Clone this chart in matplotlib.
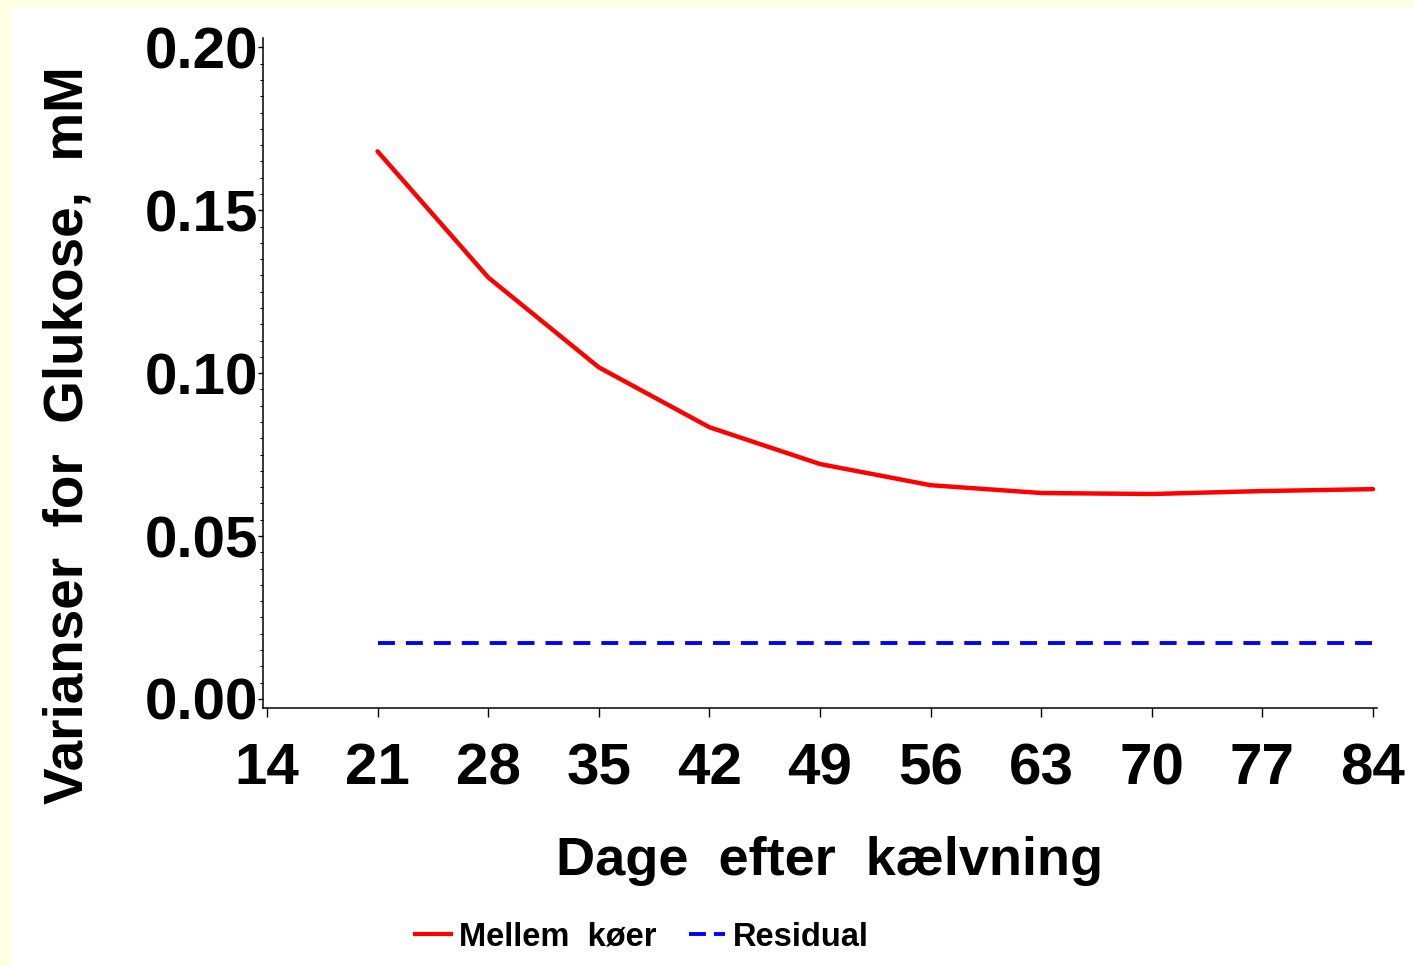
import matplotlib
matplotlib.use("Agg")
import matplotlib.pyplot as plt
from matplotlib.patches import Rectangle
from matplotlib.lines import Line2D
from matplotlib.ticker import MultipleLocator

days = [21, 28, 35, 42, 49, 56, 63, 70, 77, 84]
mellem_koer = [0.1681, 0.1294, 0.1018, 0.0834, 0.0721, 0.0656, 0.0632, 0.0629, 0.0638, 0.0644]
residual = [0.0172] * len(days)
xticks = [14, 21, 28, 35, 42, 49, 56, 63, 70, 77, 84]
yticks = [0.00, 0.05, 0.10, 0.15, 0.20]
ytick_labels = ["0.00", "0.05", "0.10", "0.15", "0.20"]

plt.rcParams['font.family'] = ['Liberation Sans', 'DejaVu Sans']
plt.rcParams['font.weight'] = 'bold'
plt.rcParams['axes.labelweight'] = 'bold'
plt.rcParams['lines.scale_dashes'] = False

W, H = 1414, 966
fig = plt.figure(figsize=(W / 100, H / 100), dpi=100, facecolor='#FFFFE4')
fig.patches.append(Rectangle((10 / W, 0), 1 - 10 / W, 1 - 7 / H, transform=fig.transFigure,
                             facecolor='white', edgecolor='none', zorder=-10))

ax = fig.add_axes([263 / W, 1 - 708 / H, (1377 - 263) / W, (708 - 38) / H])
ax.set_facecolor('white')

ax.plot(days, mellem_koer, color='#FF0000', lw=3.2, solid_capstyle='round', label='Mellem  køer')
ax.plot(days, residual, color='#0000FF', lw=2.8, dashes=(12.2, 7.9), label='Residual')

ax.set_xlim(13.75, 84.25)
ax.set_ylim(-0.0028, 0.2029)
ax.set_xticks(xticks)
ax.set_xticklabels([str(t) for t in xticks])
ax.set_yticks(yticks)
ax.set_yticklabels(ytick_labels)
ax.yaxis.set_minor_locator(MultipleLocator(0.005))

for s in ['top', 'right']:
    ax.spines[s].set_visible(False)
for s in ['left', 'bottom']:
    ax.spines[s].set_linewidth(1.1)

ax.tick_params(axis='y', which='major', direction='out', length=3.6, width=1.0, pad=0, labelsize=42)
ax.tick_params(axis='y', which='minor', direction='out', length=2.2, width=0.8)
ax.tick_params(axis='x', which='major', direction='out', length=6.5, width=1.0, pad=18, labelsize=42)

ax.set_xlabel('Dage  efter  kælvning', fontsize=39)
ax.xaxis.set_label_coords((830 - 263) / 1114, (708 - 836) / 670)
ax.xaxis.label.set_va('top')
ax.set_ylabel('Varianser  for  Glukose,  mM', fontsize=39.5)
ax.yaxis.set_label_coords((95 - 263) / 1114, (708 - 435) / 670)

handles = [Line2D([], [], color='#FF0000', lw=3.0),
           Line2D([], [], color='#0000FF', lw=2.8, dashes=(12.2, 5.8))]
fig.legend(handles, ['Mellem  køer', 'Residual'], loc='center', ncol=2,
           bbox_to_anchor=(642 / W, 1 - 937 / H), frameon=False,
           prop={'family': ['Liberation Sans'], 'weight': 'bold', 'size': 23.5},
           handlelength=1.1, handletextpad=0.25, columnspacing=1.0)

fig.savefig('out.png', dpi=100, facecolor=fig.get_facecolor())
